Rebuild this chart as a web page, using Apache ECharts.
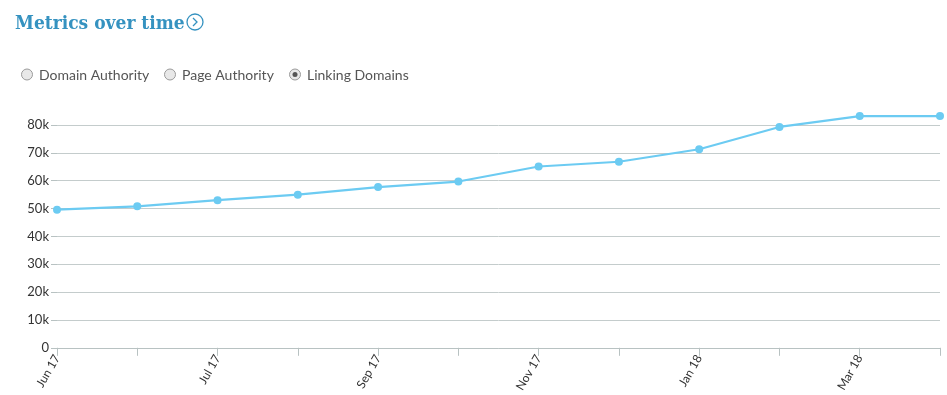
<!DOCTYPE html>
<html><head><meta charset="utf-8">
<script src="https://cdn.jsdelivr.net/npm/echarts@6/dist/echarts.min.js"></script>
<style>html,body{margin:0;padding:0;background:#fff}#c{width:947px;height:395px}</style>
</head><body><div id="c"></div>
<script>
const categories = ["Jun 17","","Jul 17","","Sep 17","","Nov 17","","Jan 18","","Mar 18",""];
const linkingDomains = [49600,50800,53000,55000,57700,59700,65100,66800,71300,79300,83200,83200];
const yTicks = [0,10000,20000,30000,40000,50000,60000,70000,80000];
const radioLabels = ["Domain Authority","Page Authority","Linking Domains"];
const selectedRadio = 2;

const chart = echarts.init(document.getElementById('c'), null, {renderer:'canvas'});
const radioX = [27, 170, 295];
const graphics = [];
radioLabels.forEach((t,i)=>{
  graphics.push({type:'circle', shape:{cx:radioX[i], cy:74.5, r:5.5}, style:{fill:'#e8e8e8', stroke:'#9a9a9a', lineWidth:1}});
  if(i===selectedRadio) graphics.push({type:'circle', shape:{cx:radioX[i], cy:74.5, r:2.5}, style:{fill:'#555'}});
  graphics.push({type:'text', x:radioX[i]+12, y:75, style:{text:t, fill:'#555', font:'14px Lato', verticalAlign:'middle'}});
});
graphics.push({type:'circle', shape:{cx:195, cy:22, r:8}, style:{fill:'none', stroke:'#3592c0', lineWidth:1.3}});
graphics.push({type:'polyline', shape:{points:[[193,18],[197,22],[193,26]]}, style:{fill:'none', stroke:'#3592c0', lineWidth:1.3}});

chart.setOption({
  animation:false,
  title:{text:'Metrics over time', left:10, top:10, textStyle:{fontFamily:'DejaVu Serif Condensed', fontWeight:'bold', fontSize:19, color:'#3592c0'}},
  graphic: graphics,
  grid:{left:57, right:7, top:125, bottom:46},
  xAxis:{type:'category', data:categories, boundaryGap:false,
    axisLine:{lineStyle:{color:'#b8c2c2'}},
    axisTick:{show:true, interval:0, length:8, lineStyle:{color:'#b8c2c2'}},
    axisLabel:{interval:0, rotate:60, color:'#333', fontFamily:'Lato', fontSize:12, margin:8}
  },
  yAxis:{type:'value', min:0, max:80000, interval:10000,
    axisLine:{show:false}, axisTick:{show:true, length:6, lineStyle:{color:'#b8c2c2'}},
    splitLine:{lineStyle:{color:'#c4cccc'}},
    axisLabel:{color:'#333', fontFamily:'Lato', fontSize:13, margin:8,
      formatter:v=> v===0 ? '0' : (v/1000)+'k'}
  },
  series:[{type:'line', data:linkingDomains, clip:false, symbol:'circle', symbolSize:8,
    lineStyle:{color:'#6ccbf2', width:2.2}, itemStyle:{color:'#6ccbf2'}}]
});
</script></body></html>
